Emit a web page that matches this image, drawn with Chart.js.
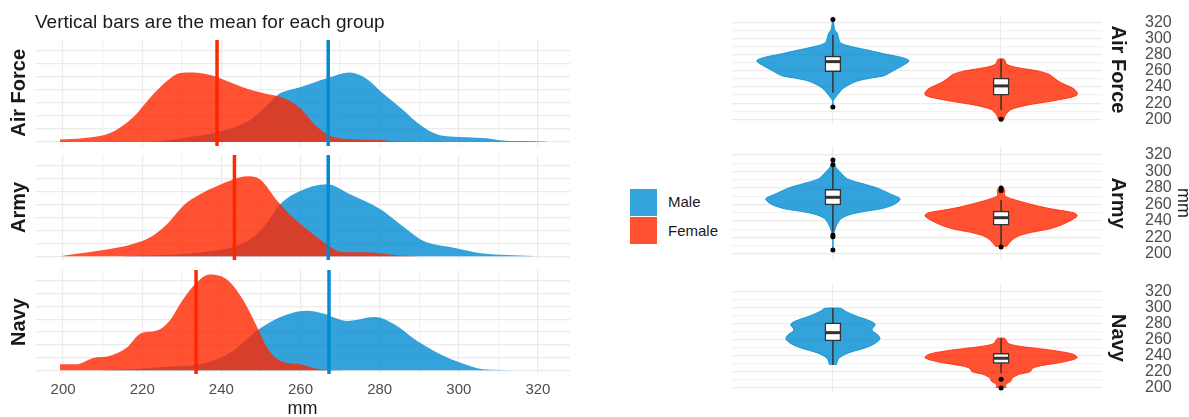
<!DOCTYPE html>
<html>
<head>
<meta charset="utf-8">
<script src="https://cdn.jsdelivr.net/npm/chart.js@4.4.1/dist/chart.umd.min.js"></script>
<style>
  html, body { margin: 0; padding: 0; background: #fff; overflow: hidden; }
  #wrap { position: relative; width: 1189px; height: 417px; overflow: hidden; font-family: "Liberation Sans", Arial, sans-serif; }
  #wrap canvas { position: absolute; }
  .key { position: absolute; left: 630px; width: 27px; height: 27px; }
  .keyLabel { position: absolute; left: 668px; font-size: 15px; color: #1a1a1a; line-height: 18px; }
</style>
</head>
<body>
<div id="wrap">
  <canvas id="dens0" width="567" height="146" style="left:3px;top:0px"></canvas>
  <canvas id="dens1" width="567" height="105" style="left:3px;top:155px"></canvas>
  <canvas id="dens2" width="567" height="150" style="left:3px;top:270px"></canvas>
  <canvas id="viol0" width="444" height="129" style="left:728px;top:5px"></canvas>
  <canvas id="viol1" width="466" height="132" style="left:728px;top:137px"></canvas>
  <canvas id="viol2" width="444" height="128" style="left:728px;top:274px"></canvas>
  <div class="key" style="top:189px;background:#34A3DB"></div>
  <div class="key" style="top:217px;background:#FF5233"></div>
  <div class="keyLabel" style="top:193px">Male</div>
  <div class="keyLabel" style="top:222px">Female</div>
</div>
<script>
// Groups and sexes
const groups = ['Air Force', 'Army', 'Navy'];
const sexes = ['Male', 'Female'];

// Density curves (mm, height in grid steps)
const airMaleMm = [222, 226.3, 232, 238.9, 247.2, 251.5, 254.1, 259.9, 266.7, 272.5, 276.5, 280.8, 285.1, 291, 295.2, 302, 307.1, 310.4, 316, 322.3];
const airMaleDens = [0, 0.15, 0.4, 0.76, 1.68, 2.8, 3.6, 4.2, 4.9, 5.34, 4.9, 3.74, 2.67, 1.15, 0.53, 0.38, 0.3, 0.15, 0.08, 0.03];
const airFemaleMm = [199.2, 205, 211.9, 217.7, 222, 226.3, 229.6, 232.8, 237.9, 243, 246.5, 251.5, 255.6, 259.9, 264.2, 268.2, 275, 280.8, 286];
const airFemaleDens = [0.2, 0.3, 0.69, 1.9, 3.4, 4.7, 5.3, 5.35, 5.1, 4.5, 4.1, 3.7, 3.4, 2.6, 1.15, 0.4, 0.2, 0.15, 0];
const armyMaleMm = [215, 226.3, 236, 243, 248, 251.5, 254.8, 259.9, 266.7, 272.5, 280.1, 285.1, 291, 297.8, 306.1, 312, 318.7];
const armyMaleDens = [0, 0.1, 0.35, 0.7, 1.46, 2.6, 4.0, 5.05, 5.57, 4.8, 3.65, 2.5, 1.2, 0.7, 0.2, 0.08, 0.02];
const armyFemaleMm = [199.7, 209.3, 217.7, 222, 226.3, 230.3, 234.6, 238.9, 243, 246.5, 249.8, 254.1, 258.1, 262.4, 266.7, 270.7, 276.8, 285.1, 290];
const armyFemaleDens = [0.02, 0.44, 0.95, 1.46, 2.5, 3.9, 4.8, 5.44, 5.95, 6.2, 5.95, 4.3, 3.0, 1.9, 0.9, 0.3, 0.3, 0.05, 0];
const navyMaleMm = [210, 217.7, 226.3, 236.4, 243, 249, 253.1, 258.1, 261.6, 265.7, 271.8, 278.8, 283.4, 289.4, 295.2, 300.3, 306.1, 316.2];
const navyMaleDens = [0, 0.08, 0.26, 0.6, 1.53, 3.1, 3.9, 4.5, 4.65, 4.44, 3.86, 4.17, 3.65, 2.3, 1.27, 0.6, 0.08, 0];
const navyFemaleMm = [199.2, 203.5, 207.6, 211.9, 216.2, 219.5, 223.7, 227, 229.6, 232.8, 237.1, 241.4, 245.5, 249, 251.5, 254.8, 259.9, 264.9, 272.5];
const navyFemaleDens = [0.47, 0.47, 0.95, 1.13, 1.8, 2.86, 3.1, 3.9, 5.2, 6.55, 7.5, 7.1, 5.5, 3.4, 1.8, 0.74, 0.47, 0.08, 0];

// Group means (vertical bars)
const meanMale = [267.0, 267.0, 267.2];
const meanFemale = [238.9, 243.3, 233.6];

// Box plots, order: Air Force M/F, Army M/F, Navy M/F
const boxQ1 = [259, 230, 259.4, 235, 258, 230];
const boxMedian = [271.6, 241.4, 268.7, 244, 268.5, 236.4];
const boxQ3 = [278.6, 251, 278.4, 252, 281, 242.7];
const whiskerLow = [233, 211.5, 227, 211, 228, 217.5];
const whiskerHigh = [305, 274.5, 305.8, 265.5, 299, 261.5];
const outliers = [[324, 215], [200], [314, 308, 223, 221, 205], [280, 277, 208.5], [], [210, 199]];
const violinHalfWidth = [0.453, 0.453, 0.40, 0.453, 0.28, 0.453];

const densMm = [[airMaleMm, airFemaleMm], [armyMaleMm, armyFemaleMm], [navyMaleMm, navyFemaleMm]];
const densVal = [[airMaleDens, airFemaleDens], [armyMaleDens, armyFemaleDens], [navyMaleDens, navyFemaleDens]];

const blueFill = 'rgba(1, 140, 210, 0.8)';
const redFill = 'rgba(255, 39, 0, 0.8)';
const blueLine = 'rgb(1, 140, 210)';
const redLine = 'rgb(255, 39, 0)';
const ink = '#333333';

Chart.defaults.font.family = '"Liberation Sans", Arial, sans-serif';
Chart.defaults.color = '#4D4D4D';

const DENS_MIN = -0.3, DENS_MAX = 7.85;

function gridColor(ctx) {
    return ctx.tick && ctx.tick.value % 20 === 0 ? '#EBEBEB' : '#F2F2F2';
}

function toPoints(xs, ys) {
    return xs.map((v, i) => ({x: v, y: ys[i]}));
}

function meanLine(v) {
    return [{x: v, y: DENS_MIN}, {x: v, y: DENS_MAX}];
}

// Left: density panels
function densityChart(g) {
    const last = g === groups.length - 1;
    const options = {
        responsive: false,
        animation: false,
        layout: {padding: 0},
        plugins: {
            legend: {display: false},
            tooltip: {enabled: false},
            title: {
                display: g === 0,
                text: 'Vertical bars are the mean for each group',
                align: 'start',
                fullSize: false,
                color: '#1a1a1a',
                font: {size: 19, weight: 'normal'},
                padding: {top: 11, bottom: 6}
            }
        },
        scales: {
            x: {
                type: 'linear', min: 192.9, max: 328.1,
                border: {display: false},
                grid: {color: gridColor, lineWidth: 1.2, drawTicks: false},
                ticks: {
                    display: last, stepSize: 10, includeBounds: false, autoSkip: false,
                    maxRotation: 0, padding: 7, font: {size: 15}, color: '#4D4D4D',
                    callback: v => v % 20 === 0 ? v : ''
                },
                title: {display: last, text: 'mm', color: '#1a1a1a', font: {size: 18}, padding: {top: 0, bottom: 0}},
                afterFit: s => { s.height = last ? 46 : 0; }
            },
            y: {
                min: DENS_MIN, max: DENS_MAX,
                border: {display: false},
                grid: {color: '#EBEBEB', lineWidth: 1.2, drawTicks: false},
                ticks: {display: false, stepSize: 1, includeBounds: false},
                title: {display: true, text: groups[g], color: '#1a1a1a', font: {size: 20, weight: 'bold'}, padding: {top: 4, bottom: 4}},
                afterFit: s => { s.width = 32; }
            }
        }
    };
    new Chart(document.getElementById('dens' + g), {
        type: 'line',
        data: {
            datasets: [
                {data: meanLine(meanFemale[g]), borderColor: redLine, borderWidth: 3.5, pointRadius: 0, order: 0},
                {data: meanLine(meanMale[g]), borderColor: blueLine, borderWidth: 3.5, pointRadius: 0, order: 0},
                {data: toPoints(densMm[g][1], densVal[g][1]), fill: 'origin', backgroundColor: redFill,
                 borderWidth: 0, borderColor: 'rgba(0,0,0,0)', pointRadius: 0, cubicInterpolationMode: 'monotone', order: 1},
                {data: toPoints(densMm[g][0], densVal[g][0]), fill: 'origin', backgroundColor: blueFill,
                 borderWidth: 0, borderColor: 'rgba(0,0,0,0)', pointRadius: 0, cubicInterpolationMode: 'monotone', order: 2}
            ]
        },
        options
    });
}

// Density value at v (linear between read points, clamped at the ends)
function densAt(mm, dens, v) {
    if (v <= mm[0]) return dens[0];
    if (v >= mm[mm.length - 1]) return dens[dens.length - 1];
    for (let i = 1; i < mm.length; i++) {
        if (v <= mm[i]) {
            const t = (v - mm[i - 1]) / (mm[i] - mm[i - 1]);
            return dens[i - 1] + t * (dens[i] - dens[i - 1]);
        }
    }
    return 0;
}

function violinPoints(mm, dens, center, halfWidth, lo, hi) {
    const peak = Math.max(...dens);
    const ys = [lo, ...mm.filter(v => v > lo && v < hi), hi];
    const w = ys.map(v => densAt(mm, dens, v) / peak * halfWidth);
    const left = ys.map((v, i) => ({x: center - w[i], y: v}));
    const right = ys.map((v, i) => ({x: center + w[i], y: v})).reverse();
    return left.concat(right);
}

// Right: violin + box panels
function violinChart(g) {
    const datasets = [];
    sexes.forEach((sex, s) => {
        const k = g * 2 + s;
        const c = s + 1;
        const fillCol = s === 0 ? blueFill : redFill;
        const lo = Math.min(whiskerLow[k], ...outliers[k]);
        const hi = Math.max(whiskerHigh[k], ...outliers[k]);
        datasets.push(
            {type: 'line', data: violinPoints(densMm[g][s], densVal[g][s], c, violinHalfWidth[k], lo, hi),
             fill: 'shape', backgroundColor: fillCol, borderColor: fillCol, borderWidth: 1, pointRadius: 0, tension: 0.3, order: 10},
            {type: 'line', data: [{x: c, y: whiskerLow[k]}, {x: c, y: whiskerHigh[k]}],
             borderColor: ink, borderWidth: 1.5, pointRadius: 0, order: 5},
            {type: 'bar', data: [{x: c, y: [boxQ1[k], boxQ3[k]]}], backgroundColor: '#ffffff', borderColor: ink,
             borderWidth: 1.5, borderSkipped: false, barThickness: 16, grouped: false, order: 4},
            {type: 'line', data: [{x: c - 0.047, y: boxMedian[k]}, {x: c + 0.047, y: boxMedian[k]}],
             borderColor: ink, borderWidth: 3, pointRadius: 0, order: 3},
            {type: 'line', data: outliers[k].map(v => ({x: c, y: v})), showLine: false,
             pointRadius: 2.5, pointBackgroundColor: '#000000', pointBorderWidth: 0, order: 2}
        );
    });
    const mid = g === 1;
    new Chart(document.getElementById('viol' + g), {
        type: 'line',
        data: {datasets},
        options: {
            responsive: false,
            animation: false,
            layout: {padding: {top: 10, bottom: 10, left: 0, right: 0}},
            plugins: {legend: {display: false}, tooltip: {enabled: false}},
            scales: {
                x: {
                    type: 'linear', min: 0.4, max: 2.6, offset: false,
                    border: {display: false},
                    grid: {color: '#EBEBEB', lineWidth: 1.2, drawTicks: false, offset: false},
                    ticks: {display: false, stepSize: 1, includeBounds: false}
                },
                y: {
                    type: 'linear', position: 'right', weight: 2, min: 194, max: 329.6,
                    border: {display: false},
                    grid: {color: gridColor, lineWidth: 1.2, drawTicks: false},
                    ticks: {stepSize: 10, includeBounds: false, autoSkip: false, padding: 0,
                            font: {size: 16}, color: '#4D4D4D', callback: v => v % 20 === 0 ? v : ''},
                    title: {display: mid, text: 'mm', color: '#1a1a1a', font: {size: 18}, padding: {top: 0, bottom: 0}},
                    afterFit: s => { s.width = mid ? 49 : 27; }
                },
                strip: {
                    type: 'linear', position: 'right', weight: 1,
                    border: {display: false},
                    grid: {display: false, drawTicks: false},
                    ticks: {display: false},
                    title: {display: true, text: groups[g], color: '#1a1a1a', font: {size: 20, weight: 'bold'}, padding: {top: 15, bottom: 4}},
                    afterFit: s => { s.width = 43; }
                }
            }
        }
    });
}

groups.forEach((name, g) => {
    densityChart(g);
    violinChart(g);
});
</script>
</body>
</html>
